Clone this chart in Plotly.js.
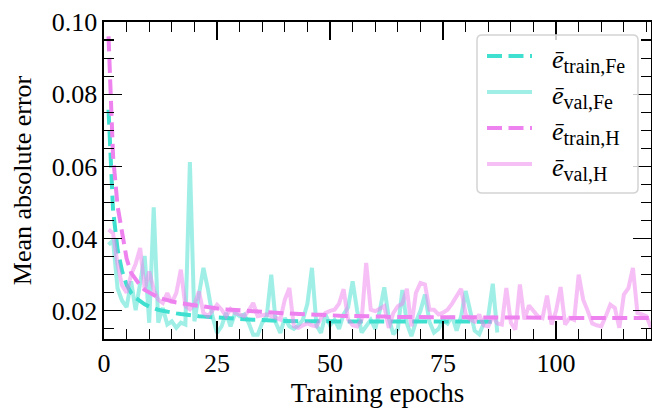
<!DOCTYPE html>
<html>
<head>
<meta charset="utf-8">
<script src="https://cdn.plot.ly/plotly-3.0.1.min.js"></script>
<style>html,body{margin:0;padding:0;background:#fff;}#chart{width:652px;height:408px;}</style>
</head>
<body>
<div id="chart"></div>
<script>
// Mean absolute error per training epoch
const trainFe = [0.0757,0.0480,0.0370,0.0310,0.0272,0.0250,0.0236,0.0226,0.0218,0.0212,
  0.0206,0.0203,0.0200,0.0197,0.0195,0.0193,0.0191,0.0189,0.0188,0.0186,
  0.0185,0.0184,0.0183,0.0182,0.0181,0.0180,0.0179,0.0178,0.0178,0.0177,
  0.0176,0.0176,0.0175,0.0175,0.0174,0.0174,0.0173,0.0173,0.0172,0.0172,
  0.0171,0.0171,0.0171,0.0171,0.0171,0.0171,0.0171,0.0171,0.0171,0.0170,
  0.0170,0.0170,0.0170,0.0170,0.0170,0.0170,0.0170,0.0170,0.0170,0.0170,
  0.0170,0.0170,0.0170,0.0170,0.0170,0.0170,0.0170,0.0170,0.0170,0.0170,
  0.0170,0.0170,0.0170,0.0170,0.0170,0.0170,0.0170,0.0170,0.0170,0.0170,
  0.0170,0.0170,0.0170,0.0170,0.0170,0.0170,0.0170];
const valFe = [0.0383,0.0395,0.0262,0.0228,0.0210,0.0282,0.0202,0.0280,0.0352,0.0167,
  0.0487,0.0167,0.0208,0.0162,0.0171,0.0153,0.0167,0.0162,0.0612,0.0171,
  0.0240,0.0319,0.0259,0.0185,0.0139,0.0157,0.0194,0.0157,0.0194,0.0185,
  0.0190,0.0167,0.0134,0.0134,0.0167,0.0185,0.0300,0.0167,0.0139,0.0180,
  0.0157,0.0150,0.0160,0.0175,0.0220,0.0319,0.0160,0.0139,0.0190,0.0160,
  0.0175,0.0150,0.0190,0.0210,0.0282,0.0200,0.0140,0.0160,0.0175,0.0150,
  0.0200,0.0265,0.0180,0.0135,0.0150,0.0258,0.0165,0.0130,0.0170,0.0200,
  0.0245,0.0170,0.0140,0.0150,0.0175,0.0165,0.0185,0.0145,0.0185,0.0255,
  0.0200,0.0145,0.0135,0.0165,0.0185,0.0275,0.0140];
const trainH = [0.0960,0.0630,0.0490,0.0415,0.0345,0.0305,0.0285,0.0270,0.0258,0.0250,
  0.0243,0.0237,0.0233,0.0229,0.0226,0.0223,0.0221,0.0219,0.0217,0.0215,
  0.0213,0.0211,0.0209,0.0208,0.0206,0.0205,0.0204,0.0203,0.0202,0.0201,
  0.0200,0.0199,0.0198,0.0197,0.0196,0.0195,0.0195,0.0194,0.0194,0.0193,
  0.0193,0.0192,0.0191,0.0191,0.0190,0.0190,0.0189,0.0189,0.0188,0.0188,
  0.0187,0.0187,0.0186,0.0186,0.0186,0.0185,0.0185,0.0185,0.0184,0.0184,
  0.0184,0.0184,0.0183,0.0183,0.0183,0.0183,0.0183,0.0182,0.0182,0.0182,
  0.0182,0.0182,0.0182,0.0182,0.0181,0.0181,0.0181,0.0181,0.0181,0.0181,
  0.0181,0.0181,0.0181,0.0181,0.0181,0.0181,0.0181,0.0181,0.0181,0.0181,
  0.0181,0.0181,0.0181,0.0181,0.0181,0.0181,0.0181,0.0181,0.0181,0.0181,
  0.0180,0.0180,0.0180,0.0180,0.0180,0.0180,0.0180,0.0180,0.0180,0.0180,
  0.0180,0.0180,0.0180,0.0180,0.0180,0.0180,0.0180,0.0180,0.0180,0.0180,
  0.0180];
const valH = [0.0425,0.0415,0.0330,0.0270,0.0250,0.0300,0.0330,0.0374,0.0259,0.0309,
  0.0259,0.0231,0.0222,0.0249,0.0222,0.0250,0.0314,0.0213,0.0204,0.0217,
  0.0254,0.0194,0.0185,0.0200,0.0217,0.0204,0.0185,0.0205,0.0194,0.0190,
  0.0185,0.0200,0.0222,0.0185,0.0188,0.0190,0.0185,0.0180,0.0176,0.0231,
  0.0263,0.0157,0.0153,0.0160,0.0165,0.0160,0.0157,0.0180,0.0194,0.0200,
  0.0203,0.0220,0.0260,0.0176,0.0160,0.0157,0.0176,0.0333,0.0203,0.0199,
  0.0205,0.0213,0.0153,0.0194,0.0213,0.0220,0.0261,0.0157,0.0250,0.0277,
  0.0273,0.0203,0.0203,0.0190,0.0195,0.0203,0.0220,0.0240,0.0261,0.0190,
  0.0176,0.0170,0.0190,0.0160,0.0157,0.0185,0.0165,0.0162,0.0263,0.0167,
  0.0148,0.0273,0.0176,0.0215,0.0199,0.0185,0.0180,0.0242,0.0162,0.0200,
  0.0266,0.0162,0.0180,0.0175,0.0300,0.0231,0.0200,0.0165,0.0160,0.0157,
  0.0185,0.0217,0.0208,0.0153,0.0245,0.0263,0.0319,0.0194,0.0190,0.0185,
  0.0153];
const subStyle = 'font-size:20px';
const seriesNames = [
  '<i>ē</i><sub><span style="' + subStyle + '">train,Fe</span></sub>',
  '<i>ē</i><sub><span style="' + subStyle + '">val,Fe</span></sub>',
  '<i>ē</i><sub><span style="' + subStyle + '">train,H</span></sub>',
  '<i>ē</i><sub><span style="' + subStyle + '">val,H</span></sub>'];
const xTitle = 'Training epochs';
const yTitle = 'Mean absolute error';

const epochs = n => Array.from({length: n}, (_, i) => i + 1);
const FONT = 'Liberation Serif, Times New Roman, serif';
const dash = '15px,6.5px';
const styles = [
  {color: 'rgb(64,224,208)', width: 4, dash: dash},
  {color: 'rgba(64,224,208,0.5)', width: 4},
  {color: 'rgb(238,130,238)', width: 4, dash: dash},
  {color: 'rgba(238,130,238,0.5)', width: 4}
];
const seriesData = [trainFe, valFe, trainH, valH];

const traces = seriesData.map((ys, i) => ({
  x: epochs(ys.length), y: ys, name: seriesNames[i], mode: 'lines',
  line: styles[i], showlegend: false
}));

// ---- legend drawn in paper coordinates (pixel layout of the figure) ----
const M = {l: 104, r: 1, t: 22, b: 69};
const PW = 652 - M.l - M.r, PH = 408 - M.t - M.b;
const px2x = p => (p - M.l) / PW;
const px2y = p => 1 - (p - M.t) / PH;
const box = {x0: 477, x1: 638, y0: 35, y1: 193, r: 5};
const rx = box.r / PW, ry = box.r / PH;
const bx0 = px2x(box.x0), bx1 = px2x(box.x1), by0 = px2y(box.y1), by1 = px2y(box.y0);
const boxPath = `M${bx0 + rx},${by0} L${bx1 - rx},${by0} Q${bx1},${by0} ${bx1},${by0 + ry} ` +
  `L${bx1},${by1 - ry} Q${bx1},${by1} ${bx1 - rx},${by1} L${bx0 + rx},${by1} ` +
  `Q${bx0},${by1} ${bx0},${by1 - ry} L${bx0},${by0 + ry} Q${bx0},${by0} ${bx0 + rx},${by0} Z`;
const shapes = [{type: 'path', xref: 'paper', yref: 'paper', path: boxPath,
  fillcolor: 'rgba(255,255,255,0.8)', line: {color: '#d4d4d4', width: 1.5}, layer: 'above'}];
const annotations = [];
const rows = [56, 92, 128, 164];
rows.forEach((ry0, i) => {
  shapes.push({type: 'line', xref: 'paper', yref: 'paper', layer: 'above',
    x0: px2x(487), x1: px2x(532), y0: px2y(ry0), y1: px2y(ry0), line: styles[i]});
  annotations.push({xref: 'paper', yref: 'paper', x: px2x(550), y: px2y(ry0 + 5),
    xanchor: 'left', yanchor: 'middle', showarrow: false, text: seriesNames[i],
    font: {family: FONT, size: 26, color: '#000'}});
});

const axisCommon = {
  showline: true, linecolor: '#000', linewidth: 1.6, mirror: 'ticks',
  ticks: 'inside', ticklen: 18, tickwidth: 1.3, tickcolor: '#000',
  showgrid: false, zeroline: false,
  tickfont: {family: FONT, size: 26, color: '#000'}
};

const layout = {
  width: 652, height: 408,
  margin: M,
  paper_bgcolor: '#fff', plot_bgcolor: '#fff',
  font: {family: FONT, color: '#000'},
  showlegend: false,
  shapes: shapes,
  annotations: annotations,
  xaxis: Object.assign({}, axisCommon, {
    range: [0, 121], tick0: 0, dtick: 25,
    minor: {dtick: 5, tick0: 0, ticks: 'inside', ticklen: 10, tickwidth: 1.2, tickcolor: '#000'},
    title: {text: xTitle, font: {family: FONT, size: 27, color: '#000'}, standoff: 8}
  }),
  yaxis: Object.assign({}, axisCommon, {
    range: [0.0122, 0.1], tick0: 0, dtick: 0.02, tickformat: '.2f',
    minor: {dtick: 0.005, tick0: 0, ticks: 'inside', ticklen: 10, tickwidth: 1.2, tickcolor: '#000'},
    title: {text: yTitle, font: {family: FONT, size: 26, color: '#000'}, standoff: 12}
  })
};

Plotly.newPlot('chart', traces, layout, {displayModeBar: false, staticPlot: true});
</script>
</body>
</html>
